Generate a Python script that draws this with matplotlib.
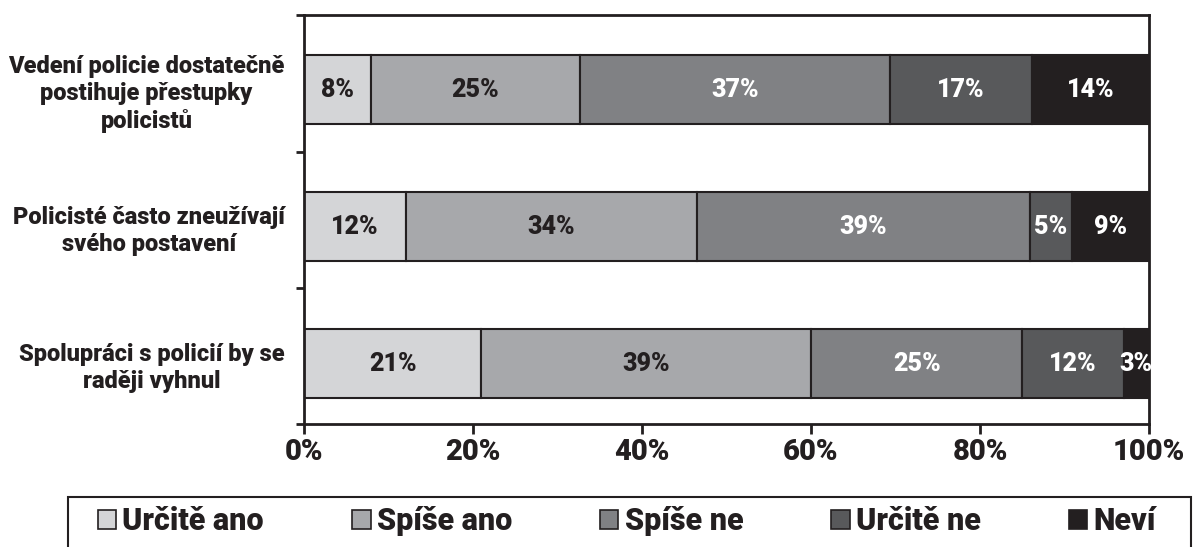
import matplotlib
matplotlib.use('Agg')
import matplotlib.pyplot as plt
from matplotlib.patches import Patch, Rectangle
from matplotlib.transforms import ScaledTranslation
import numpy as np

categories = ["Vedení policie dostatečně\npostihuje přestupky\npolicistů",
              "Policisté často zneužívají\nsvého postavení",
              "Spolupráci s policií by se\nraději vyhnul"]
series_names = ["Určitě ano", "Spíše ano", "Spíše ne", "Určitě ne", "Neví"]
urcite_ano = [8, 12, 21]
spise_ano = [25, 34, 39]
spise_ne = [37, 39, 25]
urcite_ne = [17, 5, 12]
nevi = [14, 9, 3]
xtick_values = [0, 20, 40, 60, 80, 100]
xtick_labels = ["0%", "20%", "40%", "60%", "80%", "100%"]

colors = ["#d4d5d7", "#a7a8ab", "#808184", "#58595b", "#231f20"]
text_colors = ["#231f20", "#231f20", "white", "white", "white"]
dark = "#231f20"

W = 'black'
plt.rcParams['font.family'] = ['Roboto', 'DejaVu Sans']
plt.rcParams['font.weight'] = W

series = [urcite_ano, spise_ano, spise_ne, urcite_ne, nevi]
data = np.array(series, dtype=float)
totals = data.sum(axis=0)
shares = data / totals * 100

fig = plt.figure(figsize=(11.94, 5.47), dpi=100)
ax = fig.add_axes([304/1194, 1-424/547, (1149-304)/1194, (424-15)/547])

y = np.arange(len(categories))
left = np.zeros(len(categories))
for i, name in enumerate(series_names):
    ax.barh(y, shares[i], left=left, height=0.5, color=colors[i],
            edgecolor=dark, linewidth=1.5, label=name)
    for j in range(len(categories)):
        ax.text(left[j] + shares[i][j] / 2, y[j], f"{series[i][j]}%",
                ha='center', va='center', fontsize=18, fontweight=W,
                color=text_colors[i])
    left += shares[i]

ax.set_xlim(0, 100)
ax.set_ylim(2.44, -0.544)
ax.set_xticks(xtick_values)
ax.set_xticklabels(xtick_labels, fontsize=21, fontweight=W, color=dark)
shift = ScaledTranslation(9/100, 0, fig.dpi_scale_trans)
for lab in ax.get_xticklabels():
    lab.set_transform(lab.get_transform() + shift)
ax.set_yticks(y)
ax.set_yticklabels(categories, fontsize=17, fontweight=W, color=dark,
                   multialignment='center')
ax.tick_params(axis='y', which='major', length=0, pad=14)
ax.set_yticks([-0.544, 0.456, 1.45, 2.44], minor=True)
ax.tick_params(axis='y', which='minor', length=6, width=2, color=dark)
ax.tick_params(axis='x', which='major', length=7, width=2, color=dark, pad=3)
for s in ax.spines.values():
    s.set_linewidth(2)
    s.set_color(dark)

fig.patches.append(Rectangle((68/1194, -0.05), (1191-68)/1194, 0.05 + 1-497/547,
                             transform=fig.transFigure, fill=False,
                             edgecolor=dark, linewidth=1.5))
handles = [Patch(facecolor=c, edgecolor=dark, linewidth=1.2) for c in colors]
leg = fig.legend(handles, series_names, loc='center left',
                 bbox_to_anchor=(98/1194, 1-521/547, (1156-98)/1194, 0.0),
                 mode='expand', ncol=5, frameon=False,
                 handlelength=0.6, handleheight=0.6,
                 handletextpad=0.2, borderpad=0, borderaxespad=0,
                 prop={'size': 22, 'weight': W})
for t in leg.get_texts():
    t.set_color(dark)

fig.savefig('out.png', dpi=100)
